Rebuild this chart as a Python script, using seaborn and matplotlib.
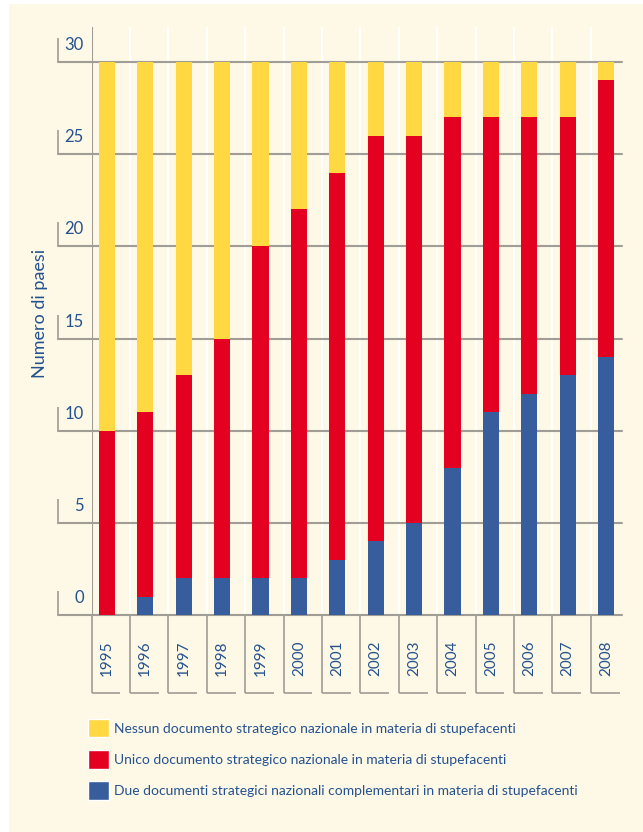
import matplotlib
matplotlib.use("Agg")
import matplotlib.pyplot as plt
import matplotlib.transforms as mtransforms
from matplotlib.patches import Patch, Rectangle
import numpy as np
import pandas as pd
import seaborn as sns

years = ['1995', '1996', '1997', '1998', '1999', '2000', '2001',
         '2002', '2003', '2004', '2005', '2006', '2007', '2008']
due = [0, 1, 2, 2, 2, 2, 3, 4, 5, 8, 11, 12, 13, 14]
unico = [10, 10, 11, 13, 18, 20, 21, 22, 21, 19, 16, 15, 14, 15]
nessun = [20, 19, 17, 15, 10, 8, 6, 4, 4, 3, 3, 3, 3, 1]
yticks = [0, 5, 10, 15, 20, 25, 30]

labels = ['Nessun documento strategico nazionale in materia di stupefacenti',
          'Unico documento strategico nazionale in materia di stupefacenti',
          'Due documenti strategici nazionali complementari in materia di stupefacenti']

yellow = '#FFD842'
red = '#E30020'
blue = '#385D9D'
cream = '#FEF8E6'
grey = '#A09C96'
txt = '#24528F'

df = pd.DataFrame({'anno': years, 'due': due, 'unico': unico, 'nessun': nessun})
df['top_red'] = df['due'] + df['unico']
df['top_yel'] = df['top_red'] + df['nessun']

sns.set_theme(style='white')
plt.rcParams['font.family'] = ['Lato', 'DejaVu Sans']

fig = plt.figure(figsize=(6.43, 8.32), dpi=100, facecolor='white')
fig.patches.append(Rectangle((9 / 643, 0), 1, 828 / 832, transform=fig.transFigure,
                             facecolor=cream, edgecolor='none', zorder=-10))
ax = fig.add_axes([91.5 / 643, 1 - 615 / 832, (622 - 91.5) / 643, (615 - 27) / 832])
ax.set_facecolor(cream)

# stacked bars: draw cumulative totals from the top down
for col, c in [('top_yel', yellow), ('top_red', red), ('due', blue)]:
    sns.barplot(data=df, x='anno', y=col, color=c, saturation=1, width=0.42,
                ax=ax, zorder=3, linewidth=0)

ax.set_xlim(-0.4, 13.415)
ax.set_ylim(0, 31.9)
for s in ax.spines.values():
    s.set_visible(False)
ax.set_xlabel('')
ax.set_ylabel('')

# white separators between categories
n = len(years)
ax.vlines(np.arange(n - 1) + 0.6, 0, 31.9, color='white', lw=1.5, zorder=1)

# horizontal grid lines extending left of the axis
for v in yticks:
    ax.axhline(v, xmin=-0.063, xmax=1, color=grey, lw=1.5, clip_on=False, zorder=2)
blend = mtransforms.blended_transform_factory(ax.transAxes, ax.transData)
ax.vlines([-0.063] * len(yticks), yticks, [v + 1.3 for v in yticks], color=grey,
          lw=1.2, transform=blend, clip_on=False)
ax.set_yticks(yticks)
ax.set_yticklabels([])
ax.tick_params(axis='y', length=0)
for v in yticks:
    ax.annotate(str(v), xy=(0, v), xycoords=('axes fraction', 'data'),
                xytext=(-5.5, 8.6), textcoords='offset points',
                ha='right', va='baseline', fontsize=12, color=txt)

# left axis line
ax.axvline(-0.4, color=grey, lw=1.5, zorder=4)

# boxes below the axis for year labels
bounds = np.arange(n) - 0.4
ax.vlines(bounds, -4.23, 0, color=grey, lw=1.2, clip_on=False)
ax.hlines([-4.23] * n, bounds, bounds + 0.755, color=grey, lw=1.2, clip_on=False)
ax.tick_params(axis='x', length=0, pad=18, labelsize=11, labelcolor=txt, rotation=90)

fig.text(40 / 643, 1 - 313 / 832, 'Numero di paesi', rotation=90, ha='center',
         va='center', fontsize=13, color=txt)

handles = [Patch(facecolor=yellow), Patch(facecolor=red), Patch(facecolor=blue)]
fig.legend(handles, labels, loc='upper left', bbox_to_anchor=(88 / 643, 1 - 719 / 832),
           frameon=False, borderpad=0, borderaxespad=0, fontsize=10,
           handlelength=1.5, handleheight=1.65, handletextpad=0.36,
           labelspacing=0.93, labelcolor=txt)

fig.savefig('out.png', dpi=100, facecolor='white')
